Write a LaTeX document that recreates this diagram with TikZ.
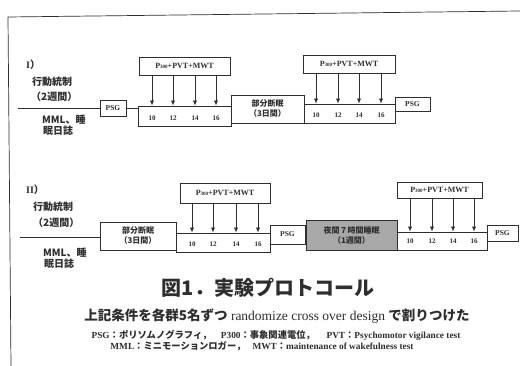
\documentclass[tikz,border=0pt]{standalone}
\usepackage{fontspec}
\setmainfont{Liberation Serif}
\newfontfamily\jp{Noto Sans CJK JP}
\usetikzlibrary{arrows.meta}
\definecolor{ink}{HTML}{2E2E2E}
\definecolor{shade}{HTML}{A8A8A8}
\begin{document}
\begin{tikzpicture}[x=1pt,y=-1pt,
 bx/.style={draw=ink, line width=0.7pt, inner sep=0pt, text=ink},
 lbl/.style={font=\jp\bfseries\fontsize{10}{10}\selectfont, text=ink, inner sep=0pt, anchor=west},
 num/.style={font=\fontsize{7}{7}\selectfont\bfseries, text=ink, inner sep=0pt},
 tst/.style={bx, font=\fontsize{8}{8}\selectfont\bfseries},
 phase/.style={bx, font=\jp\bfseries\fontsize{8}{10}\selectfont, align=center},
 psg/.style={bx, font=\fontsize{7.5}{7.5}\selectfont\bfseries},
 arr/.style={draw=ink, line width=0.7pt, -{Latex[length=5pt,width=4pt]}},
 ln/.style={draw=ink, line width=0.7pt}]
\useasboundingbox (0,0) rectangle (520,366);
\fill[white] (0,0) rectangle (520,366);
% frame
\coordinate (fa) at (520,11);
\coordinate (fb) at (8,17);
\coordinate (fc) at (11,366);
\draw[ln] (fa) -- (fb) -- (fc);

\newcommand{\ptest}{P{\fontsize{5}{5}\selectfont 300}+PVT+MWT}
\newcommand{\jc}{{\jp ：}}

% ---------- Row I ----------
\node[lbl, font=\bfseries\fontsize{10}{10}\selectfont] (r1a) at (26,65) {I{\jp ）}};
\node[lbl] (r1b) at (32,82) {行動統制};
\node[lbl] (r1c) at (31,97) {（2週間）};
\node[lbl] (r1d) at (42,120) {MML、睡};
\node[lbl] (r1e) at (43,131) {眠日誌};
\coordinate (s1) at (18,108);

\node[psg, minimum width=26pt, minimum height=16pt] (g1) at (113,108) {PSG};
\node[bx, minimum width=93pt, minimum height=20pt] (t1) at (184.5,116) {};
\node[tst, minimum width=91pt, minimum height=18pt] (p1) at (184.5,66) {\ptest};
\node[phase, minimum width=73pt, minimum height=28pt] (b1) at (267.5,109) {部分断眠\\（3日間）};
\node[bx, minimum width=91pt, minimum height=19pt] (t2) at (349.5,113.5) {};
\node[tst, minimum width=92pt, minimum height=18pt] (p2) at (349,64) {\ptest};
\node[psg, minimum width=35pt, minimum height=14pt] (g2) at (412.5,104) {PSG};

\draw[ln] (s1) -- (g1.west);
\draw[ln] (g1.east) -- (g1.east -| t1.west);

\node[num] (n1a) at (152,118) {10};
\node[num] (n1b) at (173,118) {12};
\node[num] (n1c) at (195,118) {14};
\node[num] (n1d) at (216,118) {16};
\node[num] (n2a) at (316,115) {10};
\node[num] (n2b) at (338,115) {12};
\node[num] (n2c) at (359,115) {14};
\node[num] (n2d) at (381,115) {16};
\foreach \n in {n1a,n1b,n1c,n1d} \draw[arr] (p1.south -| \n) -- (t1.north -| \n);
\foreach \n in {n2a,n2b,n2c,n2d} \draw[arr] (p2.south -| \n) -- (t2.north -| \n);

% ---------- Row II ----------
\node[lbl, font=\bfseries\fontsize{10}{10}\selectfont] (r2a) at (26,190) {II{\jp ）}};
\node[lbl] (r2b) at (33,207) {行動統制};
\node[lbl] (r2c) at (33,223) {（2週間）};
\node[lbl] (r2d) at (43,253) {MML、睡};
\node[lbl] (r2e) at (44,264) {眠日誌};
\coordinate (s2) at (20,237);

\node[phase, minimum width=76pt, minimum height=28pt] (b2) at (138,236) {部分断眠\\（3日間）};
\node[bx, minimum width=94pt, minimum height=19pt] (t3) at (223,242.5) {};
\node[tst, minimum width=90pt, minimum height=20pt] (p3) at (225,193) {\ptest};
\node[psg, minimum width=35pt, minimum height=19pt] (g3) at (287.5,234.5) {PSG};
\node[phase, fill=shade, minimum width=91pt, minimum height=30pt] (b3) at (351.5,235) {夜間７時間睡眠\\（1週間）};
\node[bx, minimum width=90pt, minimum height=18pt] (t4) at (442,241) {};
\node[tst, minimum width=85pt, minimum height=16pt] (p4) at (439.5,190) {\ptest};
\node[psg, minimum width=31pt, minimum height=16pt] (g4) at (502.5,233) {PSG};

\draw[ln] (s2) -- (b2.west |- s2);

\node[num] (n3a) at (192,244) {10};
\node[num] (n3b) at (213,244) {12};
\node[num] (n3c) at (236,244) {14};
\node[num] (n3d) at (258,244) {16};
\node[num] (n4a) at (410,241) {10};
\node[num] (n4b) at (432,241) {12};
\node[num] (n4c) at (453,241) {14};
\node[num] (n4d) at (474,241) {16};
\foreach \n in {n3a,n3b,n3c,n3d} \draw[arr] (p3.south -| \n) -- (t3.north -| \n);
\foreach \n in {n4a,n4b,n4c,n4d} \draw[arr] (p4.south -| \n) -- (t4.north -| \n);

% ---------- captions ----------
\node[text=ink, inner sep=0pt, font=\jp\bfseries\fontsize{20}{20}\selectfont] (title) at (268,288) {図1．実験プロトコール};
\node[text=ink, inner sep=0pt, font=\fontsize{13.5}{13.5}\selectfont] (sub) at (277,316)
  {{\jp\bfseries 上記条件を各群5名ずつ} randomize cross over design {\jp\bfseries で割りつけた}};
\node[text=ink, inner sep=0pt, font=\bfseries\fontsize{9.3}{9.3}\selectfont] (leg1) at (276,335)
  {PSG\jc{\jp ポリソムノグラフィ，}\quad P300\jc{\jp 事象関連電位，}\quad\ PVT\jc Psychomotor vigilance test};
\node[text=ink, inner sep=0pt, font=\bfseries\fontsize{9.3}{9.3}\selectfont] (leg2) at (262,346)
  {MML\jc{\jp ミニモーションロガー，}\ \ \ MWT\jc maintenance of wakefulness test};
\end{tikzpicture}
\end{document}
